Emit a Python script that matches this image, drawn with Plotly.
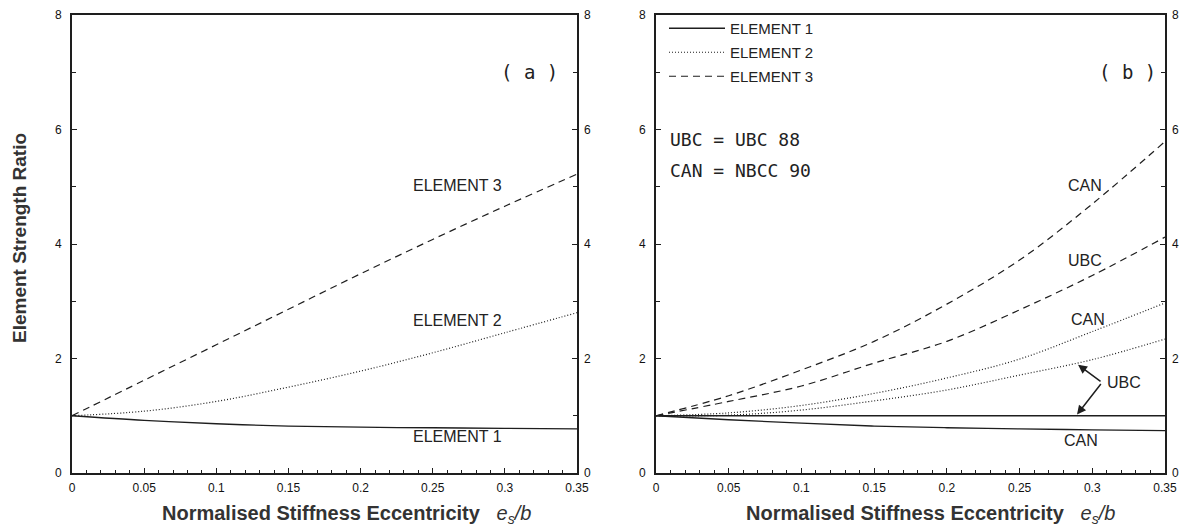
import plotly.graph_objects as go

# ---------------- data ----------------
ecc = [0.0, 0.05, 0.10, 0.15, 0.20, 0.25, 0.30, 0.35]

# panel (a)
a_el1 = [1.00, 0.92, 0.86, 0.82, 0.80, 0.79, 0.78, 0.77]
a_el2 = [1.00, 1.08, 1.25, 1.50, 1.78, 2.10, 2.45, 2.80]
a_el3 = [1.00, 1.62, 2.24, 2.86, 3.48, 4.08, 4.66, 5.22]

# panel (b)
b_el1_ubc = [1.00, 1.00, 1.00, 1.00, 1.00, 1.00, 1.00, 1.00]
b_el1_can = [1.00, 0.93, 0.87, 0.82, 0.79, 0.77, 0.755, 0.74]
b_el2_ubc = [1.00, 1.01, 1.10, 1.26, 1.45, 1.71, 1.98, 2.34]
b_el2_can = [1.00, 1.05, 1.18, 1.39, 1.66, 1.99, 2.47, 2.97]
b_el3_ubc = [1.00, 1.25, 1.52, 1.92, 2.30, 2.85, 3.45, 4.12]
b_el3_can = [1.00, 1.35, 1.80, 2.30, 2.95, 3.72, 4.70, 5.79]

x_ticks = [0, 0.05, 0.1, 0.15, 0.2, 0.25, 0.3, 0.35]
x_ticktext = ["0", "0.05", "0.1", "0.15", "0.2", "0.25", "0.3", "0.35"]
y_ticks = [0, 2, 4, 6, 8]
y_minor = [1, 3, 5, 7]

legend_names = ["ELEMENT 1", "ELEMENT 2", "ELEMENT 3"]

# ---------------- styles ----------------
INK = "#1e1e1e"
SOLID = dict(color=INK, width=1.3)
DOT = dict(color=INK, width=1.2, dash="1px,2px")
DASH = dict(color=INK, width=1.2, dash="7px,5px")
SANS = "Liberation Sans, Arial, sans-serif"
TICKFONT = dict(family=SANS, size=12, color="#111")
LABELFONT = dict(family=SANS, size=16, color="#222")
LEGFONT = dict(family=SANS, size=15, color="#222")
MONOFONT = dict(family="DejaVu Sans Mono, monospace", size=18, color="#222")

fig = go.Figure()

# panel (a)
for ys, ln in [(a_el1, SOLID), (a_el2, DOT), (a_el3, DASH)]:
    fig.add_trace(go.Scatter(x=ecc, y=ys, mode="lines", line=ln, line_shape="spline",
                             xaxis="x", yaxis="y", showlegend=False, hoverinfo="skip"))

# panel (b) -- legend entries from the CAN curves
b_sets = [
    (b_el1_can, SOLID, legend_names[0], True),
    (b_el2_can, DOT, legend_names[1], True),
    (b_el3_can, DASH, legend_names[2], True),
    (b_el1_ubc, SOLID, legend_names[0], False),
    (b_el2_ubc, DOT, legend_names[1], False),
    (b_el3_ubc, DASH, legend_names[2], False),
]
for ys, ln, nm, sl in b_sets:
    fig.add_trace(go.Scatter(x=ecc, y=ys, mode="lines", line=ln, line_shape="spline",
                             name=nm, legendgroup=nm, showlegend=sl,
                             xaxis="x2", yaxis="y2", hoverinfo="skip"))

# dummy traces so the right-hand mirrored axes render
fig.add_trace(go.Scatter(x=[None], y=[None], xaxis="x", yaxis="y3", showlegend=False, hoverinfo="skip"))
fig.add_trace(go.Scatter(x=[None], y=[None], xaxis="x2", yaxis="y4", showlegend=False, hoverinfo="skip"))

W, H = 1188, 530
XD1 = [72 / W, 577 / W]
XD2 = [656 / W, 1165 / W]
YD = [1 - 473 / H, 1 - 15 / H]

def xaxis(domain, anchor):
    return dict(domain=domain, anchor=anchor, range=[0, 0.35], tickvals=x_ticks, ticktext=x_ticktext,
                ticks="inside", ticklen=5, tickwidth=1, tickcolor=INK,
                minor=dict(dtick=0.01, ticks="inside", ticklen=3, tickcolor=INK, showgrid=False),
                showline=True, linewidth=2, linecolor=INK, mirror=True,
                showgrid=False, zeroline=False, tickfont=TICKFONT, ticklabelstandoff=3,
                automargin=False, fixedrange=True)

def yaxis(domain, anchor, side="left", overlay=None):
    d = dict(range=[0, 8], tickvals=y_ticks, ticks="inside", ticklen=5, tickwidth=1, tickcolor=INK,
             minor=dict(tickvals=y_minor, ticks="inside", ticklen=4, tickcolor=INK, showgrid=False),
             showgrid=False, zeroline=False, tickfont=TICKFONT, side=side, anchor=anchor,
             ticklabelstandoff=6, automargin=False, fixedrange=True)
    if overlay:
        d.update(overlaying=overlay, showline=False)
    else:
        d.update(domain=domain, showline=True, linewidth=2, linecolor=INK, mirror=True)
    return d

fig.update_layout(
    width=W, height=H,
    margin=dict(l=0, r=0, t=0, b=0, autoexpand=False),
    paper_bgcolor="white", plot_bgcolor="white",
    xaxis=xaxis(XD1, "y"),
    xaxis2=xaxis(XD2, "y2"),
    yaxis=yaxis(YD, "x"),
    yaxis2=yaxis(YD, "x2"),
    yaxis3=yaxis(YD, "x", side="right", overlay="y"),
    yaxis4=yaxis(YD, "x2", side="right", overlay="y2"),
    legend=dict(x=664 / W, y=1 - 12 / H, xanchor="left", yanchor="top",
                bgcolor="rgba(0,0,0,0)", font=LEGFONT, tracegroupgap=1.5, itemwidth=56,
                itemclick=False, itemdoubleclick=False),
    showlegend=True,
)

ann = []
# axis titles
ann.append(dict(text="<b>Element Strength Ratio</b>", xref="paper", yref="paper",
                x=19 / W, y=1 - 238 / H, xanchor="center", yanchor="middle", textangle=-90,
                showarrow=False, font=dict(family=SANS, size=19, color="#333")))
xtitle = ("<b>Normalised Stiffness Eccentricity</b>   "
          "<i>e<sub>s</sub>/b</i>")
for cx in (347, 930):
    ann.append(dict(text=xtitle, xref="paper", yref="paper", x=cx / W, y=1 - 514 / H,
                    xanchor="center", yanchor="middle", showarrow=False,
                    font=dict(family=SANS, size=20, color="#333")))

# panel labels
ann.append(dict(text="( a )", xref="x", yref="y", x=0.3174, y=7.0, showarrow=False,
                font=dict(family="DejaVu Sans Mono, monospace", size=19, color="#222")))
ann.append(dict(text="( b )", xref="x2", yref="y2", x=0.3245, y=7.0, showarrow=False,
                font=dict(family="DejaVu Sans Mono, monospace", size=19, color="#222")))

# panel (a) curve labels
for t, yy in [("ELEMENT 3", 5.03), ("ELEMENT 2", 2.67), ("ELEMENT 1", 0.63)]:
    ann.append(dict(text=t, xref="x", yref="y", x=0.2675, y=yy, showarrow=False, font=LABELFONT))

# panel (b) code notes
ann.append(dict(text="UBC = UBC 88", xref="x2", yref="y2", x=0.008, y=5.83, xanchor="left",
                showarrow=False, font=MONOFONT))
ann.append(dict(text="CAN = NBCC 90", xref="x2", yref="y2", x=0.008, y=5.28, xanchor="left",
                showarrow=False, font=MONOFONT))

# panel (b) curve labels
for t, xx, yy in [("CAN", 0.2950, 5.03), ("UBC", 0.2950, 3.72), ("CAN", 0.2970, 2.68),
                  ("CAN", 0.2922, 0.56)]:
    ann.append(dict(text=t, xref="x2", yref="y2", x=xx, y=yy, showarrow=False, font=LABELFONT))
ann.append(dict(text="UBC", xref="x2", yref="y2", x=0.3085, y=1.58, xanchor="left",
                showarrow=False, font=LABELFONT))
# arrows from UBC label
for tx, ty in [(0.2902, 1.89), (0.2895, 1.02)]:
    ann.append(dict(text="", xref="x2", yref="y2", x=tx, y=ty, axref="x2", ayref="y2",
                    ax=0.3067, ay=1.58, showarrow=True, arrowhead=2, arrowsize=1.2,
                    arrowwidth=1.5, arrowcolor=INK, standoff=0, startstandoff=0))

fig.update_layout(annotations=ann)
fig.write_html("out.html",
               config={"displayModeBar": False, "staticPlot": False},
               post_script="document.body.style.margin='0';document.body.style.overflow='hidden';")
